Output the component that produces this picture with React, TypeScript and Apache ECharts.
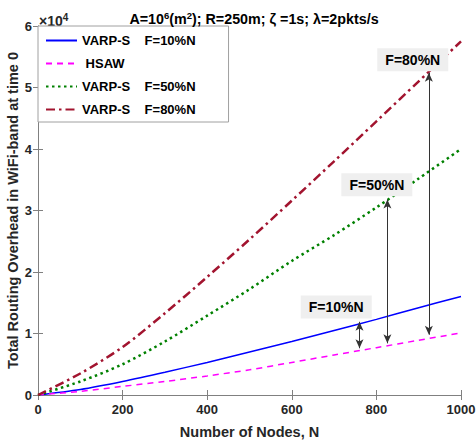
import React, { useEffect, useRef } from "react";
import * as echarts from "echarts";

const nodes = [0, 100, 200, 300, 400, 500, 600, 700, 800, 900, 1000];
const varpS10 = [0, 900, 2200, 3700, 5300, 7000, 8700, 10500, 12300, 14200, 16000];
const hsaw = [0, 600, 1400, 2200, 3100, 4100, 5300, 6500, 7700, 8900, 10100];
const varpS50 = [0, 2200, 5000, 8700, 12900, 17200, 21800, 26000, 30500, 35200, 40000];
const varpS80 = [0, 3500, 7800, 13300, 19200, 25300, 31600, 38000, 44500, 51000, 57500];

const seriesNames = ["VARP-S    F=10%N", " HSAW", "VARP-S    F=50%N", "VARP-S    F=80%N"];
const xTicks = { min: 0, max: 1000, interval: 200 };
const yTicks = { min: 0, max: 60000, interval: 10000 };

// annotation arrows: [N, bottom value, top value]
const arrows = [
  [760, 7600, 11900],
  [826, 8400, 31800],
  [924, 9800, 52400],
];
// annotation labels: [text, N, value]
const labels: [string, number, number][] = [
  ["F=80%N", 886, 54500],
  ["F=50%N", 801, 34200],
  ["F=10%N", 705, 14300],
];

const FONT = "Liberation Sans, Arial, sans-serif";

export default function App() {
  const ref = useRef<HTMLDivElement>(null);
  useEffect(() => {
    if (!ref.current) return;
    const chart = echarts.init(ref.current, undefined, { renderer: "svg" });
    const pair = (vals: number[]) => nodes.map((n, i) => [n, vals[i]]);
    const axisLine = { lineStyle: { color: "#808080", width: 1 } };
    const axisTick = { inside: true, length: 5, lineStyle: { color: "#808080" } };
    const axisLabel = { color: "#262626", fontSize: 13, fontWeight: "bold" as const, fontFamily: FONT };
    chart.setOption({
      animation: false,
      textStyle: { fontFamily: FONT },
      title: {
        text: "A=10{sup|6}(m{sup|2}); R=250m; ζ =1s; λ=2pkts/s",
        left: 249,
        textAlign: "center",
        top: 5,
        textStyle: {
          fontSize: 14.3,
          fontWeight: "bold",
          color: "#000",
          fontFamily: FONT,
          rich: { sup: { fontSize: 9.5, fontWeight: "bold", verticalAlign: "top", padding: [0, 0, 8, 0], fontFamily: FONT } },
        },
      },
      graphic: [
        {
          type: "text",
          left: 39,
          top: 12,
          style: {
            text: "×10{sup|4}",
            fontSize: 14,
            fontWeight: "bold",
            fill: "#262626",
            fontFamily: FONT,
            rich: { sup: { fontSize: 10, fontWeight: "bold", padding: [0, 0, 8, 0], fontFamily: FONT } },
          },
        },
      ],
      legend: {
        orient: "vertical",
        left: 38,
        top: 26,
        data: seriesNames,
        itemWidth: 31,
        itemHeight: 14,
        itemGap: 10,
        padding: [8, 33, 6, 7],
        borderColor: "#a0a0a0",
        borderWidth: 1,
        backgroundColor: "#fff",
        itemStyle: { opacity: 0 },
        textStyle: { fontSize: 13, fontWeight: "bold", color: "#000", fontFamily: FONT },
      },
      grid: { left: 38, right: 15, top: 26, bottom: 49, outerBoundsMode: "none", containLabel: false },
      xAxis: [
        {
          type: "value",
          ...xTicks,
          name: "Number of Nodes, N",
          nameLocation: "middle",
          nameGap: 29,
          nameMoveOverlap: false,
          nameTextStyle: { fontSize: 14.5, fontWeight: "bold", color: "#262626", fontFamily: FONT },
          axisLine,
          axisTick,
          axisLabel: { ...axisLabel, margin: 8, formatter: (v: number) => String(v) },
          splitLine: { show: false },
        },
        {
          type: "value",
          ...xTicks,
          position: "top",
          axisLine,
          axisTick,
          axisLabel: { show: false },
          splitLine: { show: false },
        },
      ],
      yAxis: [
        {
          type: "value",
          ...yTicks,
          name: "Total Routing Overhead in WiFi-band at time 0",
          nameLocation: "middle",
          nameGap: 18,
          nameMoveOverlap: false,
          nameTextStyle: { fontSize: 14.5, fontWeight: "bold", color: "#262626", fontFamily: FONT },
          axisLine: { show: true, ...axisLine },
          axisTick: { show: true, ...axisTick },
          axisLabel: { ...axisLabel, margin: 6, formatter: (v: number) => String(v / 10000) },
          splitLine: { show: false },
        },
        {
          type: "value",
          ...yTicks,
          position: "right",
          axisLine: { show: true, ...axisLine },
          axisTick: { show: true, ...axisTick },
          axisLabel: { show: false },
          splitLine: { show: false },
        },
      ],
      series: [
        {
          name: seriesNames[0],
          type: "line",
          data: pair(varpS10),
          symbol: "none",
          smooth: 0.3,
          lineStyle: { color: "#0000ff", width: 1.5, type: "solid" },
          itemStyle: { color: "#0000ff" },
        },
        {
          name: seriesNames[1],
          type: "line",
          data: pair(hsaw),
          symbol: "none",
          smooth: 0.3,
          lineStyle: { color: "#ff00ff", width: 1.5, type: [6, 5] },
          itemStyle: { color: "#ff00ff" },
        },
        {
          name: seriesNames[2],
          type: "line",
          data: pair(varpS50),
          symbol: "none",
          smooth: 0.3,
          lineStyle: { color: "#008000", width: 2.5, type: [2.5, 3.5] },
          itemStyle: { color: "#008000" },
        },
        {
          name: seriesNames[3],
          type: "line",
          data: pair(varpS80),
          symbol: "none",
          smooth: 0.3,
          lineStyle: { color: "#a2142f", width: 2.5, type: [9, 4, 2.5, 4] },
          itemStyle: { color: "#a2142f" },
        },
        {
          name: "annotations",
          type: "line",
          data: [],
          silent: true,
          markLine: {
            silent: true,
            symbol: ["arrow", "arrow"],
            symbolSize: [6, 9],
            label: { show: false },
            lineStyle: { color: "#333", width: 1, type: "solid" },
            emphasis: { disabled: true },
            data: arrows.map(([n, lo, hi]) => [{ coord: [n, lo] }, { coord: [n, hi] }]),
          },
          markPoint: {
            silent: true,
            symbol: "rect",
            symbolSize: [71, 23],
            itemStyle: { color: "#efefef" },
            label: { show: true, fontSize: 14, fontWeight: "bold", color: "#000", fontFamily: FONT },
            data: labels.map(([t, n, v]) => ({ coord: [n, v], value: t, label: { formatter: t } })),
          },
        },
      ],
    });
    return () => chart.dispose();
  }, []);
  return <div ref={ref} style={{ width: 476, height: 444, position: "absolute", left: 0, top: 0 }} />;
}
